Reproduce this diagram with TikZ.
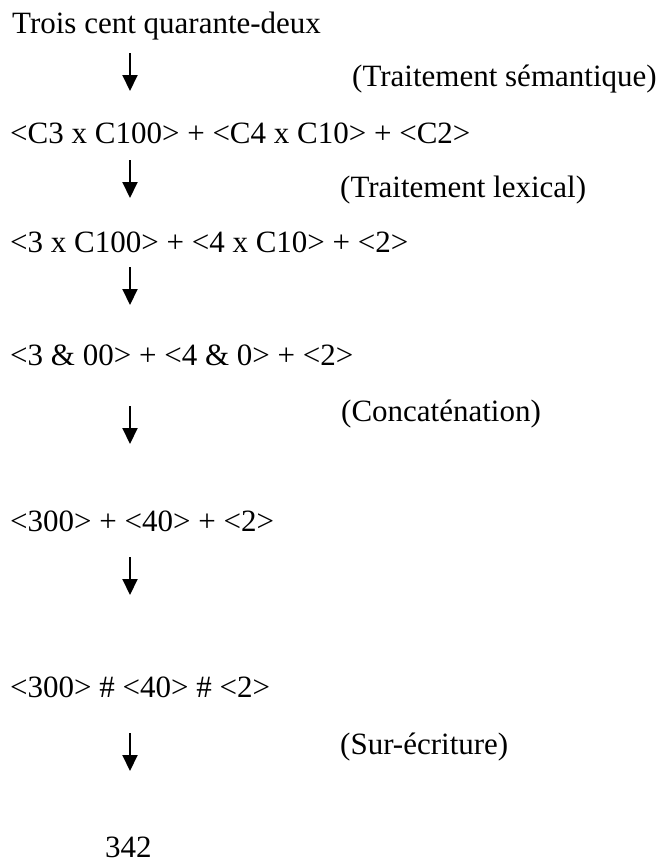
\documentclass[tikz,border=0pt]{standalone}
\usepackage{fontspec}
\setmainfont{Liberation Serif}
\usetikzlibrary{arrows.meta}
\begin{document}
\begin{tikzpicture}[x=1pt,y=-1pt,
  txt/.style={anchor=base west,inner sep=0pt,font=\fontsize{31}{37}\selectfont},
  flow/.style={line width=2pt,-{Triangle[width=15pt,length=16pt]}}]
\useasboundingbox[fill=white] (0,0) rectangle (662,863);
% main lines
\node[txt] (l1) at (12,33) {Trois cent quarante-deux};
\node[txt] (l2) at (10,143) {<C3 x C100> + <C4 x C10> + <C2>};
\node[txt] (l3) at (10,252) {<3 x C100> + <4 x C10> + <2>};
\node[txt] (l4) at (10,365) {<3 \& 00> + <4 \& 0> + <2>};
\node[txt] (l5) at (10,531) {<300> + <40> + <2>};
\node[txt] (l6) at (10,697) {<300> \# <40> \# <2>};
\node[txt] (l7) at (105,857) {342};
% labels
\node[txt] (t1) at (352,86) {(Traitement sémantique)};
\node[txt] (t2) at (340,197) {(Traitement lexical)};
\node[txt] (t3) at (341,421) {(Concaténation)};
\node[txt] (t4) at (340,754) {(Sur-écriture)};
% arrows
\coordinate (a1s) at (130,53);  \coordinate (a1e) at (130,91);
\coordinate (a2s) at (130,160); \coordinate (a2e) at (130,198);
\coordinate (a3s) at (130,267); \coordinate (a3e) at (130,305);
\coordinate (a4s) at (130,406); \coordinate (a4e) at (130,444);
\coordinate (a5s) at (130,557); \coordinate (a5e) at (130,595);
\coordinate (a6s) at (130,733); \coordinate (a6e) at (130,771);
\draw[flow] (a1s) -- (a1e);
\draw[flow] (a2s) -- (a2e);
\draw[flow] (a3s) -- (a3e);
\draw[flow] (a4s) -- (a4e);
\draw[flow] (a5s) -- (a5e);
\draw[flow] (a6s) -- (a6e);
\end{tikzpicture}
\end{document}
